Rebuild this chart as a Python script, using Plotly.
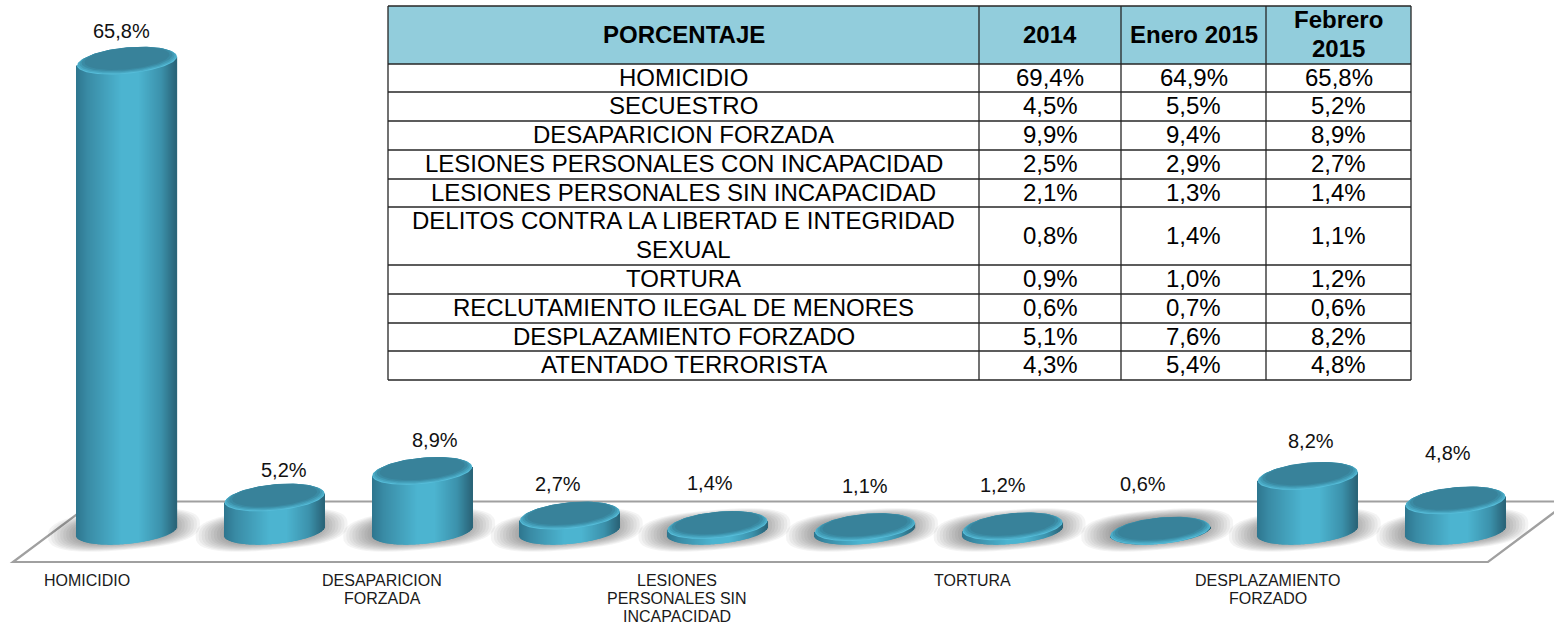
import numpy as np
import plotly.graph_objects as go

W, H = 1554, 624
FONT = "Liberation Sans"

# ---- data ----
bar_categories = ["HOMICIDIO", "SECUESTRO", "DESAPARICION<br>FORZADA", "LESIONES PERSONALES CON INCAPACIDAD",
                  "LESIONES<br>PERSONALES SIN<br>INCAPACIDAD", "DELITOS CONTRA LA LIBERTAD E INTEGRIDAD SEXUAL",
                  "TORTURA", "RECLUTAMIENTO ILEGAL DE MENORES", "DESPLAZAMIENTO<br>FORZADO", "ATENTADO TERRORISTA"]
table_rows = ["HOMICIDIO", "SECUESTRO", "DESAPARICION FORZADA", "LESIONES PERSONALES CON INCAPACIDAD",
              "LESIONES PERSONALES SIN INCAPACIDAD", "DELITOS CONTRA LA LIBERTAD E INTEGRIDAD<br>SEXUAL",
              "TORTURA", "RECLUTAMIENTO ILEGAL DE MENORES", "DESPLAZAMIENTO FORZADO", "ATENTADO TERRORISTA"]
table_header = ["PORCENTAJE", "2014", "Enero 2015", "Febrero<br>2015"]
values_2014 = [69.4, 4.5, 9.9, 2.5, 2.1, 0.8, 0.9, 0.6, 5.1, 4.3]
values_jan_2015 = [64.9, 5.5, 9.4, 2.9, 1.3, 1.4, 1.0, 0.7, 7.6, 5.4]
values_feb_2015 = [65.8, 5.2, 8.9, 2.7, 1.4, 1.1, 1.2, 0.6, 8.2, 4.8]

# ---- layout of the picture (pixels) ----
STEP = 147.6          # px per category
X0 = 127.0            # px of the first category
Y0 = 535.5            # px of value 0
PPU = 7.21            # px per percent
AXIS_BOTTOM = 568
BASE_VALUE = 0.6      # value at which the cylinder foot is centred
A, B, K = 50.0, 12.7, 4.5   # ellipse half width, half height, tilt
LABEL_DX = [-6, 9, 13, -12, -7, 0, -10, -17, 3, -7]
LABEL_DY = [30, 28, 31, 32, 42, 42, 42, 47, 35, 48]
TICK_SHIFT = 40
TICK_Y = 580
TICK_LINE = 18
TABLE_TEXT_NUDGE = -1

col_edges = [388, 979, 1121, 1266, 1411]
row_edges = [6, 64, 92, 121, 150, 179, 207, 265, 294, 323, 351, 380]

def fx(px): return px / W
def fy(py): return 1 - py / H
def ux(px): return px / STEP
def uy(px): return px / PPU

def fmt(v): return f"{v:.1f}%".replace(".", ",")

idx = np.arange(len(values_feb_2015), dtype=float)

# ---- cylinder bodies: shaded vertical strips ----
stops = [(0, (46, 118, 142)), (.12, (58, 140, 166)), (.45, (76, 180, 208)), (.62, (77, 181, 209)),
         (.85, (60, 146, 172)), (1, (42, 100, 120))]
def shade(t):
    p = [s[0] for s in stops]
    return "rgb(%d,%d,%d)" % tuple(np.interp(t, p, [s[1][c] for s in stops]) for c in range(3))

N = 100
sx, sbase, sh, scol = [], [], [], []
for i, v in zip(idx, values_feb_2015):
    top = max(v, BASE_VALUE)
    for s in range(N):
        t = (s + .5) / N
        dx = (2 * t - 1) * A
        c = dx / A
        low = BASE_VALUE + uy(K * c - B * np.sqrt(1 - c * c))
        hi = top + uy(K * c)
        sx.append(i + ux(dx)); sbase.append(low); sh.append(hi - low); scol.append(shade(t))

traces = [go.Bar(x=sx, y=sh, base=sbase, width=ux(2 * A / N) * 1.3,
                 marker=dict(color=scol, line=dict(width=0)), hoverinfo="skip", showlegend=False)]

# ---- cylinder tops: nested tilted ellipses ----
layers = [(1.0, 0.0, "#56bcd8"), (0.985, 0.7, "#4aa9c4"), (0.95, 1.5, "#419ab4"), (0.91, 2.2, "#3b8ba4"),
          (0.85, 2.6, "#38829a")]
th = np.linspace(0, 2 * np.pi, 121)
for s, up, col in layers:
    ex, ey = [], []
    for i, v in zip(idx, values_feb_2015):
        ex += list(i + ux(s * A * np.cos(th))) + [None]
        ey += list(v + uy(up + s * (K * np.cos(th) + B * np.sin(th)))) + [None]
    traces.append(go.Scatter(x=ex, y=ey, mode="lines", fill="toself", fillcolor=col,
                             line=dict(width=0), hoverinfo="skip", showlegend=False))

# ---- floor ----
shapes = []
for path in [f"M{fx(94)},{fy(501.5)} L{fx(13)},{fy(562)} L{fx(1488)},{fy(562)} L{fx(1556)},{fy(511)}",
             f"M{fx(94)},{fy(501.5)} L{fx(1554)},{fy(501.5)}"]:
    shapes.append(dict(type="path", xref="paper", yref="paper", path=path,
                       line=dict(color="#a0a0a0", width=2.2), layer="below"))

# ---- soft tilted shadows below the cylinders ----
ph = np.linspace(0, 2 * np.pi, 49)[:-1]
cs, sn = np.cos(ph), np.sin(ph)
ex_c = np.sign(cs) * np.abs(cs) ** 0.75
ex_s = np.sign(sn) * np.abs(sn) ** 0.75
for i in idx:
    for k in range(16):
        s = 1 - k * .04
        px_x = -3 + 76 * s * ex_c
        px_y = (Y0 - 530) + 6 * s * ex_c + 20 * s * ex_s
        pts = [f"{i + ux(a):.4f},{uy(b):.3f}" for a, b in zip(px_x, px_y)]
        shapes.append(dict(type="path", xref="x", yref="y", layer="below", line=dict(width=0),
                           path="M" + " L".join(pts) + " Z", fillcolor="#3a3a3a", opacity=.055))

# ---- table grid ----
shapes.append(dict(type="rect", xref="paper", yref="paper", x0=fx(col_edges[0]), x1=fx(col_edges[-1]),
                   y0=fy(row_edges[0]), y1=fy(row_edges[1]), fillcolor="#92cddc", line=dict(width=0)))
LINE = dict(color="#262626", width=1.3)
for y in row_edges:
    shapes.append(dict(type="line", xref="paper", yref="paper", x0=fx(col_edges[0]), x1=fx(col_edges[-1]),
                       y0=fy(y), y1=fy(y), line=LINE))
for x in col_edges:
    shapes.append(dict(type="line", xref="paper", yref="paper", x0=fx(x), x1=fx(x),
                       y0=fy(row_edges[0]), y1=fy(row_edges[-1]), line=LINE))

annotations = []
def cell(text, c, r, bold=False):
    xc = (col_edges[c] + col_edges[c + 1]) / 2
    yc = (row_edges[r] + row_edges[r + 1]) / 2 + TABLE_TEXT_NUDGE
    lines = text.split("<br>")
    for n, ln in enumerate(lines):
        y = yc + (n - (len(lines) - 1) / 2) * 29
        annotations.append(dict(xref="paper", yref="paper", x=fx(xc), y=fy(y), text=f"<b>{ln}</b>" if bold else ln,
                                showarrow=False, xanchor="center", yanchor="middle",
                                font=dict(family=FONT, size=24, color="black")))

for c, t in enumerate(table_header):
    cell(t, c, 0, bold=True)
for r, row in enumerate(table_rows):
    cell(row, 0, r + 1)
    cell(fmt(values_2014[r]), 1, r + 1)
    cell(fmt(values_jan_2015[r]), 2, r + 1)
    cell(fmt(values_feb_2015[r]), 3, r + 1)

# ---- value labels ----
for i, v, dx, dy in zip(idx, values_feb_2015, LABEL_DX, LABEL_DY):
    annotations.append(dict(x=i, y=v, text=fmt(v), showarrow=False, xshift=dx, yshift=dy,
                            xanchor="center", yanchor="middle",
                            font=dict(family=FONT, size=20, color="#111111")))

# ---- category labels (every second category, as in the reference) ----
for i, name in zip(idx[::2], bar_categories[::2]):
    for n, ln in enumerate(name.split("<br>")):
        annotations.append(dict(xref="x", yref="paper", x=i - ux(TICK_SHIFT), y=fy(TICK_Y + n * TICK_LINE),
                                text=ln, showarrow=False, xanchor="center", yanchor="middle",
                                font=dict(family=FONT, size=16, color="#1a1a1a")))

fig = go.Figure(traces)
fig.update_layout(
    width=W, height=H, margin=dict(l=0, r=0, t=0, b=0), autosize=False,
    paper_bgcolor="white", plot_bgcolor="rgba(0,0,0,0)", barmode="overlay", showlegend=False,
    shapes=shapes, annotations=annotations,
    xaxis=dict(range=[-X0 / STEP, (W - X0) / STEP], showgrid=False, zeroline=False, showline=False,
               showticklabels=False, ticks="", fixedrange=True),
    yaxis=dict(domain=[(H - AXIS_BOTTOM) / H, 1], range=[(Y0 - AXIS_BOTTOM) / PPU, Y0 / PPU],
               visible=False, fixedrange=True),
)
fig.write_html("out.html", config={"displayModeBar": False},
               post_script="document.body.style.margin='0';document.documentElement.style.overflow='hidden';")
